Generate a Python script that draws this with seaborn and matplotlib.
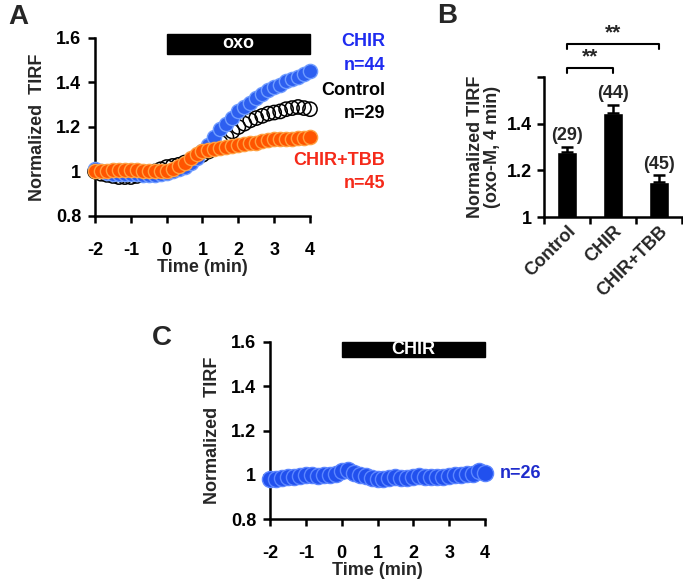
import numpy as np
import pandas as pd
import matplotlib.pyplot as plt
import seaborn as sns
from matplotlib.patches import Rectangle

sns.set_style('ticks')
plt.rcParams['font.family'] = ['Liberation Sans', 'DejaVu Sans']
plt.rcParams['font.weight'] = 'bold'
plt.rcParams['axes.labelweight'] = 'bold'

# ---- data ----
time_min = np.round(np.arange(37) / 6 - 2, 3)  # 10 s sampling, -2..4 min

control = [1.0, 0.99, 0.985, 0.98, 0.975, 0.975, 0.975, 0.98, 0.985, 0.99, 1.0, 1.01, 1.02,
           1.025, 1.03, 1.04, 1.05, 1.06, 1.075, 1.09, 1.11, 1.13, 1.155, 1.18, 1.2,
           1.215, 1.23, 1.24, 1.25, 1.26, 1.265, 1.27, 1.28, 1.285, 1.29, 1.285, 1.28]
chir = [1.01, 1.0, 0.995, 0.99, 0.99, 0.99, 0.99, 0.99, 0.985, 0.985, 0.985, 0.99, 0.995,
        1.0, 1.01, 1.02, 1.04, 1.06, 1.09, 1.12, 1.155, 1.19, 1.215, 1.24, 1.27,
        1.29, 1.31, 1.33, 1.35, 1.365, 1.38, 1.39, 1.405, 1.415, 1.425, 1.44, 1.45]
chir_tbb = [1.0, 1.0, 1.0, 1.005, 1.005, 1.005, 1.005, 1.005, 1.0, 1.0, 1.0, 1.0, 1.0,
            1.01, 1.025, 1.04, 1.06, 1.08, 1.09, 1.095, 1.1, 1.105, 1.11, 1.115, 1.12,
            1.125, 1.13, 1.13, 1.135, 1.14, 1.145, 1.145, 1.145, 1.145, 1.15, 1.15, 1.155]
chir_only = [0.98, 0.98, 0.985, 0.99, 0.99, 0.995, 1.0, 1.0, 0.995, 1.0, 1.0, 1.005, 1.015,
             1.02, 1.01, 1.0, 0.995, 0.985, 0.98, 0.98, 0.985, 0.99, 0.985, 0.985, 0.99,
             0.995, 0.99, 0.99, 0.99, 0.99, 0.995, 1.0, 1.0, 1.005, 1.005, 1.015, 1.01]

groups = ['Control', 'CHIR', 'CHIR+TBB']
bar_means = [1.277, 1.447, 1.15]
bar_sem = [0.022, 0.033, 0.028]
bar_n = ['(29)', '(44)', '(45)']

W, H = 683, 586
fig = plt.figure(figsize=(W / 100, H / 100), dpi=100)


def px_axes(l, t, r, b):
    return fig.add_axes([l / W, 1 - b / H, (r - l) / W, (b - t) / H])


def style_time_axes(ax):
    ax.set_xlim(-2, 4)
    ax.set_ylim(0.8, 1.6)
    ax.set_xticks([-2, -1, 0, 1, 2, 3, 4])
    ax.set_xticklabels(['-2', '-1', '0', '1', '2', '3', '4'])
    ax.set_yticks([0.8, 1.0, 1.2, 1.4, 1.6])
    ax.set_yticklabels(['0.8', '1', '1.2', '1.4', '1.6'])
    sns.despine(ax=ax)
    for s in ['left', 'bottom']:
        ax.spines[s].set_linewidth(1.8)
        ax.spines[s].set_color('black')
    ax.tick_params(axis='x', length=5, width=1.8, pad=14, labelsize=13, colors='black')
    ax.tick_params(axis='y', length=5, width=1.8, pad=5, labelsize=13, colors='black')
    ax.set_xlabel('Time (min)', fontsize=13, fontweight='bold', labelpad=0)
    ax.set_ylabel('Normalized  TIRF', fontsize=13, fontweight='bold', labelpad=7)
    for lab in ax.get_xticklabels() + ax.get_yticklabels():
        lab.set_fontweight('bold')


# ---- panel A ----
axA = px_axes(95, 38, 310, 216)
dfA = pd.DataFrame({'t': time_min, 'Control': control, 'CHIR': chir, 'CHIR+TBB': chir_tbb})
sns.scatterplot(data=dfA, x='t', y='Control', ax=axA, s=105, facecolor='none',
                edgecolor='black', linewidth=1.1, clip_on=False, zorder=3)
sns.scatterplot(data=dfA, x='t', y='CHIR', ax=axA, s=105, color='#2d5ff0',
                edgecolor='#6f9cff', linewidth=1.0, clip_on=False, zorder=4)
sns.scatterplot(data=dfA, x='t', y='CHIR+TBB', ax=axA, s=105, color='#ff5500',
                edgecolor='#ffa040', linewidth=1.0, clip_on=False, zorder=5)
style_time_axes(axA)
axA.add_patch(Rectangle((0, 1.53), 4, 0.09, color='black', clip_on=False, zorder=6))
axA.text(2, 1.575, 'oxo', color='white', ha='center', va='center', fontsize=13,
         fontweight='bold', zorder=7)

fig.text(385 / W, 1 - 42 / H, 'CHIR', color='#1f2cf0', ha='right', va='center', fontsize=13, fontweight='bold')
fig.text(385 / W, 1 - 65 / H, 'n=44', color='#1f2cf0', ha='right', va='center', fontsize=13, fontweight='bold')
fig.text(385 / W, 1 - 90 / H, 'Control', color='black', ha='right', va='center', fontsize=13, fontweight='bold')
fig.text(385 / W, 1 - 113 / H, 'n=29', color='black', ha='right', va='center', fontsize=13, fontweight='bold')
fig.text(385 / W, 1 - 160 / H, 'CHIR+TBB', color='#f52a1a', ha='right', va='center', fontsize=13, fontweight='bold')
fig.text(385 / W, 1 - 183 / H, 'n=45', color='#f52a1a', ha='right', va='center', fontsize=13, fontweight='bold')
fig.text(8 / W, 1 - 17 / H, 'A', fontsize=20, fontweight='bold', va='center')

# ---- panel B ----
axB = px_axes(544, 77, 682, 217)
dfB = pd.DataFrame({'group': groups, 'value': bar_means})
sns.barplot(data=dfB, x='group', y='value', ax=axB, color='black', width=0.45,
            saturation=1, errorbar=None)
axB.errorbar(range(3), bar_means, yerr=[np.zeros(3), bar_sem], fmt='none',
             ecolor='black', elinewidth=1.8, capsize=4, capthick=1.8)
axB.set_ylim(1, 1.6)
axB.set_xlim(-0.5, 2.5)
axB.set_yticks([1, 1.2, 1.4, 1.6])
axB.set_yticklabels(['1', '1.2', '1.4', ''])
axB.set_xticks([-0.5, 0.5, 1.5, 2.5], minor=True)
sns.despine(ax=axB)
for s in ['left', 'bottom']:
    axB.spines[s].set_linewidth(1.8)
    axB.spines[s].set_color('black')
axB.tick_params(axis='x', which='major', length=0, pad=4, labelsize=13)
axB.tick_params(axis='x', which='minor', length=5, width=1.8, colors='black')
axB.tick_params(axis='y', length=5, width=1.8, pad=4, labelsize=13, colors='black')
for lab in axB.get_xticklabels():
    lab.set_rotation(45)
    lab.set_ha('right')
    lab.set_rotation_mode('anchor')
    lab.set_fontweight('bold')
for lab in axB.get_yticklabels():
    lab.set_fontweight('bold')
axB.set_xlabel('')
axB.set_ylabel('Normalized TIRF\n(oxo-M, 4 min)', fontsize=13, fontweight='bold', labelpad=4,
               linespacing=1.0)
for i, (m, e, n) in enumerate(zip(bar_means, bar_sem, bar_n)):
    axB.text(i, m + e + 0.012, n, ha='center', va='bottom', fontsize=13, fontweight='bold')
# significance brackets
axB.plot([0, 0, 1, 1], [1.617, 1.638, 1.638, 1.617], color='black', lw=1.5, clip_on=False)
axB.text(0.5, 1.645, '**', ha='center', va='bottom', fontsize=15, fontweight='bold')
axB.plot([0, 0, 2, 2], [1.72, 1.741, 1.741, 1.72], color='black', lw=1.5, clip_on=False)
axB.text(1.0, 1.748, '**', ha='center', va='bottom', fontsize=15, fontweight='bold')
fig.text(437 / W, 1 - 16 / H, 'B', fontsize=20, fontweight='bold', va='center')

# ---- panel C ----
axC = px_axes(270, 342, 485, 519)
dfC = pd.DataFrame({'t': time_min, 'CHIR': chir_only})
sns.scatterplot(data=dfC, x='t', y='CHIR', ax=axC, s=135, color='#2150ee',
                edgecolor='#5c86ff', linewidth=1.0, clip_on=False, zorder=4)
style_time_axes(axC)
axC.add_patch(Rectangle((0, 1.53), 4, 0.07, color='black', clip_on=False, zorder=6))
axC.text(2, 1.565, 'CHIR', color='white', ha='center', va='center', fontsize=13,
         fontweight='bold', zorder=7)
fig.text(500 / W, 1 - 473 / H, 'n=26', color='#1f2ccc', ha='left', va='center', fontsize=13, fontweight='bold')
fig.text(152 / W, 1 - 338 / H, 'C', fontsize=20, fontweight='bold', va='center')

plt.savefig('out.png', dpi=100)
